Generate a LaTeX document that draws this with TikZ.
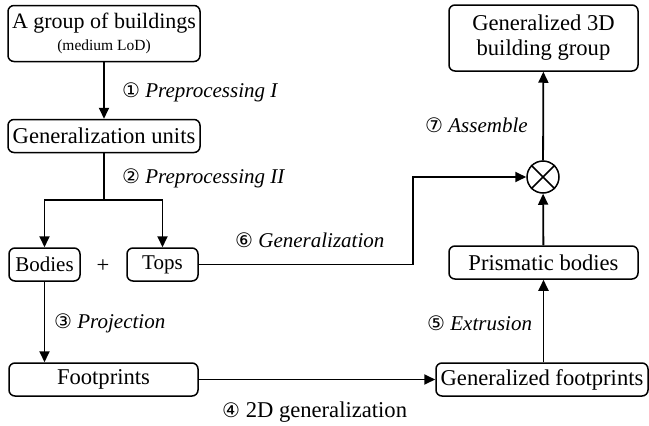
\documentclass[tikz,border=0pt]{standalone}
\usepackage{fontspec}
\setmainfont{Liberation Serif}
\newfontfamily\circfont{DejaVu Sans}
\usetikzlibrary{arrows.meta}

\newcommand{\stepno}[1]{{\circfont\fontsize{20}{22}\selectfont #1}}

\begin{document}
\begin{tikzpicture}[x=1pt,y=-1pt,
  every node/.style={font=\fontsize{22.6}{25}\selectfont, inner sep=0pt},
  box/.style={draw, line width=1.5pt, rounded corners=6pt, align=center},
  smallbox/.style={box, font=\fontsize{21}{24}\selectfont},
  flow/.style={line width=1.8pt, -{Triangle[length=11pt,width=10pt]}},
  plain/.style={line width=1.8pt},
  steplabel/.style={anchor=west, font=\fontsize{21}{24}\selectfont\itshape}]

\useasboundingbox (0,0) rectangle (649,426);

% boxes
\node[box, minimum width=192pt, minimum height=56pt, font=\fontsize{22}{25}\selectfont] (group) at (104,33.5)
  {A group of buildings\\[-3pt]{\fontsize{15.5}{17}\selectfont (medium LoD)}};
\node[box, minimum width=192pt, minimum height=33pt] (units) at (104,136) {Generalization units};
\node[smallbox, minimum width=71pt, minimum height=33pt] (bodies) at (44.5,264.5) {Bodies};
\node (plus) at (103,266) {+};
\node[smallbox, minimum width=71pt, minimum height=33pt] (tops) at (162.5,264.5) {Tops};
\node[box, minimum width=189pt, minimum height=33pt] (foot) at (103.5,379.5) {Footprints};
\node[box, minimum width=212pt, minimum height=33pt] (genfoot) at (542,379.5) {Generalized footprints};
\node[box, minimum width=189pt, minimum height=33pt] (prism) at (543.5,262.5) {Prismatic bodies};
\node[box, minimum width=189pt, minimum height=66pt] (result) at (543.5,38)
  {Generalized 3D\\building group};
\node[draw, circle, line width=1.5pt, minimum size=32pt] (join) at (543,177) {};
\draw[line width=1.5pt] (join.north east) -- (join.south west)
                        (join.north west) -- (join.south east);

% connectors
\coordinate (split) at (104,200);
\coordinate (bend) at (413,264.5);
\draw[flow] (group) -- (units);
\draw[plain] (units) -- (split);
\draw[flow] (split) -| (bodies);
\draw[flow] (split) -| (tops);
\draw[flow] (bodies.south) -- (bodies.south |- foot.north);
\draw[flow] (foot) -- (genfoot);
\draw[flow] (prism.south |- genfoot.north) -- (prism.south);
\draw[flow] (prism) -- (join);
\draw[flow] (tops.east) -- (bend) |- (join.west);
\draw[flow] (join) -- (result);

% step labels
\node[steplabel] (s1) at (122,92) {\stepno{①} Preprocessing I};
\node[steplabel] (s2) at (122,178) {\stepno{②} Preprocessing II};
\node[steplabel] (s3) at (54,323) {\stepno{③} Projection};
\node[anchor=west] (s4) at (222,412) {\stepno{④} 2D generalization};
\node[steplabel] (s5) at (427,323) {\stepno{⑤} Extrusion};
\node[steplabel] (s6) at (235,240) {\stepno{⑥} Generalization};
\node[steplabel] (s7) at (425,125) {\stepno{⑦} Assemble};
\end{tikzpicture}
\end{document}
